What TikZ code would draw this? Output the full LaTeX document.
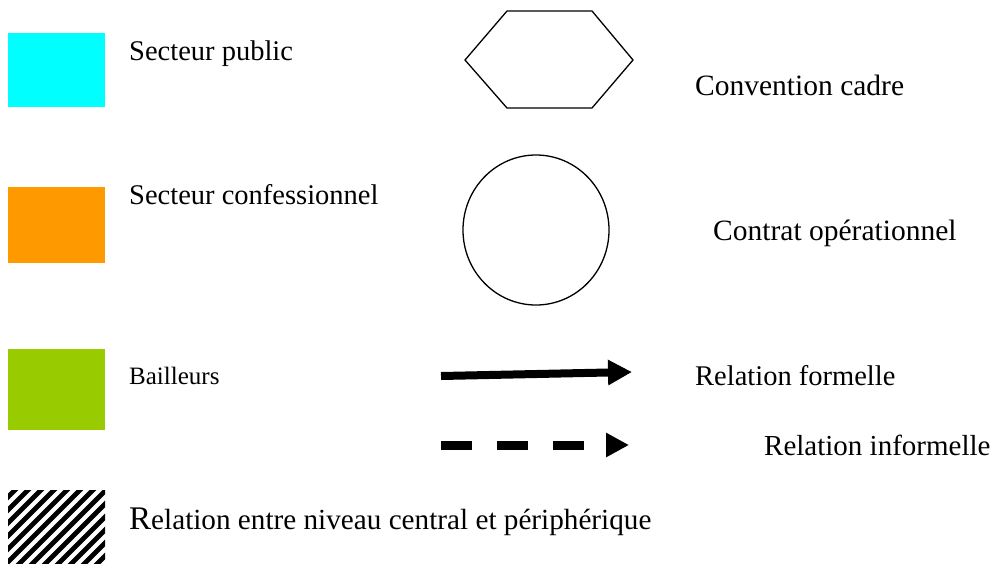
\documentclass[tikz,border=0pt]{standalone}
\usepackage{fontspec}
\setmainfont{Liberation Serif}
\usetikzlibrary{arrows.meta}
\definecolor{cpublic}{RGB}{0,255,255}
\definecolor{cconf}{RGB}{255,153,0}
\definecolor{cbail}{RGB}{153,204,0}
\tikzset{
  lbl/.style={anchor=base west, inner sep=0pt, font=\fontsize{28.5}{32}\selectfont},
  shapeline/.style={draw=black, line width=1.3pt},
}
\begin{document}
\begin{tikzpicture}[x=1pt,y=-1pt]
\useasboundingbox (0,0) rectangle (995,563);
% swatches
\fill[cpublic] (8,33) rectangle (105,107);
\fill[cconf] (8,187) rectangle (105,263);
\fill[cbail] (8,349) rectangle (105,430);
\begin{scope}
  \clip (8,490) rectangle (105,563);
  \foreach \i in {-9,...,9} {
    \draw[line width=4.8pt] ({8+13*\i},575) -- ({8+13*\i+100},475);
  }
\end{scope}
% labels left
\node[lbl] (tpub) at (129,60) {Secteur public};
\node[lbl] (tconf) at (129,204) {Secteur confessionnel};
\node[lbl, font=\fontsize{25}{28}\selectfont] (tbail) at (129,384) {Bailleurs};
\node[lbl, font=\fontsize{29.2}{32}\selectfont] (trel) at (129,529) {{\fontsize{33}{36}\selectfont R}elation entre niveau central et périphérique};
% hexagon
\draw[shapeline, line join=miter] (465,60) -- (507,11) -- (592,11) -- (633,60) -- (592,108) -- (507,108) -- cycle;
% ellipse
\draw[shapeline] (536,230) ellipse [x radius=73, y radius=75];
% arrows
\coordinate (a1) at (441,376);
\coordinate (a2) at (632,372);
\draw[line width=8pt, -{Triangle[length=24pt,width=24pt]}] (a1) -- (a2);
\coordinate (b1) at (441,445);
\coordinate (b2) at (629,445);
\draw[line width=9pt, dash pattern=on 31pt off 25pt, -{Triangle[length=23pt,width=23pt]}] (b1) -- (b2);
% labels right
\node[lbl, font=\fontsize{29.5}{33}\selectfont] (tconv) at (695,95) {Convention cadre};
\node[lbl, font=\fontsize{29.5}{33}\selectfont] (tcontr) at (713,240) {Contrat opérationnel};
\node[lbl] (tform) at (695,385) {Relation formelle};
\node[lbl, font=\fontsize{29}{32}\selectfont] (tinf) at (764,455) {Relation informelle};
\end{tikzpicture}
\end{document}
